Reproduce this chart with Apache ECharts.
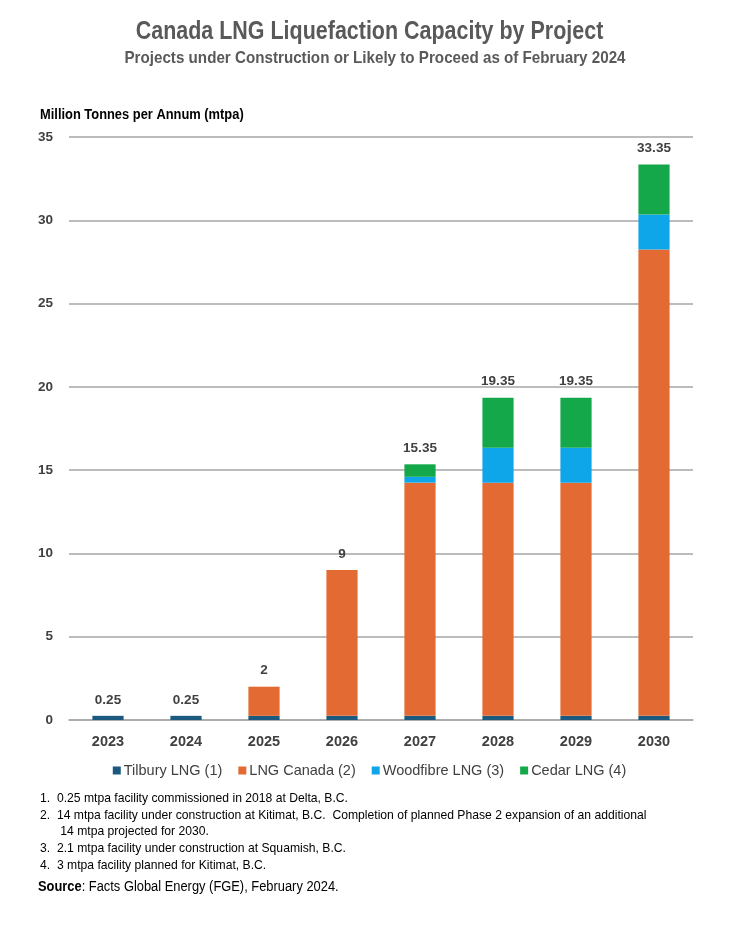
<!DOCTYPE html>
<html>
<head>
<meta charset="utf-8">
<script src="https://cdn.jsdelivr.net/npm/echarts@6/dist/echarts.min.js"></script>
<style>
  html, body { margin: 0; padding: 0; background: #fff; }
  #chart { width: 739px; height: 937px; }
</style>
</head>
<body>
<div id="chart"></div>
<script>
// data
var years = ['2023', '2024', '2025', '2026', '2027', '2028', '2029', '2030'];
var tilbury = [0.25, 0.25, 0.25, 0.25, 0.25, 0.25, 0.25, 0.25];
var lngCanada = [0, 0, 1.75, 8.75, 14, 14, 14, 28];
var woodfibre = [0, 0, 0, 0, 0.35, 2.1, 2.1, 2.1];
var cedar = [0, 0, 0, 0, 0.75, 3, 3, 3];
var totalLabels = ['0.25', '0.25', '2', '9', '15.35', '19.35', '19.35', '33.35'];
var yTicks = [0, 5, 10, 15, 20, 25, 30, 35];

var font = '"Liberation Sans", Arial, sans-serif';
var dark = '#404040';
var grey = '#595959';

var chart = echarts.init(document.getElementById('chart'));

function bar(name, data, color) {
  return {
    name: name,
    type: 'bar',
    stack: 'cap',
    barWidth: '40%',
    itemStyle: { color: color },
    data: data
  };
}

// narrow text is faked with a horizontal squeeze
function squeezed(text, x, y, size, weight, color, sx, align) {
  return {
    type: 'text',
    x: x, y: y,
    scaleX: sx,
    style: {
      text: text,
      font: weight + ' ' + size + 'px ' + font,
      fill: color,
      textAlign: align || 'left',
      textVerticalAlign: 'middle'
    }
  };
}

var notes = [
  '1.  0.25 mtpa facility commissioned in 2018 at Delta, B.C.',
  '2.  14 mtpa facility under construction at Kitimat, B.C.  Completion of planned Phase 2 expansion of an additional',
  '      14 mtpa projected for 2030.',
  '3.  2.1 mtpa facility under construction at Squamish, B.C.',
  '4.  3 mtpa facility planned for Kitimat, B.C.'
];
var graphics = [
  squeezed('Canada LNG Liquefaction Capacity by Project', 369.5, 32, 26.5, 'bold', grey, 0.81, 'center'),
  squeezed('Projects under Construction or Likely to Proceed as of February 2024', 375, 58, 16.5, 'bold', grey, 0.92, 'center'),
  squeezed('Million Tonnes per Annum (mtpa)', 40, 115, 14, 'bold', '#000', 0.92)
];
notes.forEach(function (t, i) {
  graphics.push(squeezed(t, 40, 798 + i * 16.8, 13.5, 'normal', '#000', 0.9));
});
graphics.push({
  type: 'text', x: 38, y: 887, scaleX: 0.92,
  style: {
    text: '{b|Source}: Facts Global Energy (FGE), February 2024.',
    font: '14px ' + font, fill: '#000', textVerticalAlign: 'middle',
    rich: { b: { fontWeight: 'bold', fontSize: 14, fontFamily: font, fill: '#000' } }
  }
});

chart.setOption({
  backgroundColor: '#ffffff',
  legend: {
    top: 758,
    left: 'center',
    itemWidth: 8,
    itemHeight: 8,
    itemGap: 16,
    icon: 'rect',
    textStyle: { fontFamily: font, fontSize: 14.5, color: dark, padding: [0, 0, 0, -2] },
    data: ['Tilbury LNG (1)', 'LNG Canada (2)', 'Woodfibre LNG (3)', 'Cedar LNG (4)']
  },
  grid: { left: 69, right: 46, top: 137, bottom: 217 },
  xAxis: {
    type: 'category',
    data: years,
    axisLine: { lineStyle: { color: '#a6a6a6', width: 1.5 } },
    axisTick: { show: false },
    axisLabel: { fontFamily: font, fontSize: 14.5, fontWeight: 'bold', color: dark, margin: 14 }
  },
  yAxis: {
    type: 'value',
    min: yTicks[0],
    max: yTicks[yTicks.length - 1],
    interval: 5,
    axisLine: { show: false },
    axisTick: { show: false },
    splitLine: { lineStyle: { color: '#a6a6a6', width: 1.5 } },
    axisLabel: { fontFamily: font, fontSize: 13.5, fontWeight: 'bold', color: dark, margin: 16 }
  },
  series: [
    bar('Tilbury LNG (1)', tilbury, '#1b5a7e'),
    bar('LNG Canada (2)', lngCanada, '#e46a33'),
    bar('Woodfibre LNG (3)', woodfibre, '#0fa5e9'),
    bar('Cedar LNG (4)', cedar, '#14a84b'),
    {
      name: 'total',
      type: 'bar',
      stack: 'cap',
      barWidth: '40%',
      itemStyle: { color: 'rgba(0,0,0,0)' },
      label: {
        show: true,
        position: 'top',
        distance: 9,
        fontFamily: font,
        fontSize: 13.5,
        fontWeight: 'bold',
        color: dark,
        formatter: function (p) { return totalLabels[p.dataIndex]; }
      },
      data: years.map(function () { return 0; })
    }
  ],
  graphic: graphics
});
</script>
</body>
</html>
